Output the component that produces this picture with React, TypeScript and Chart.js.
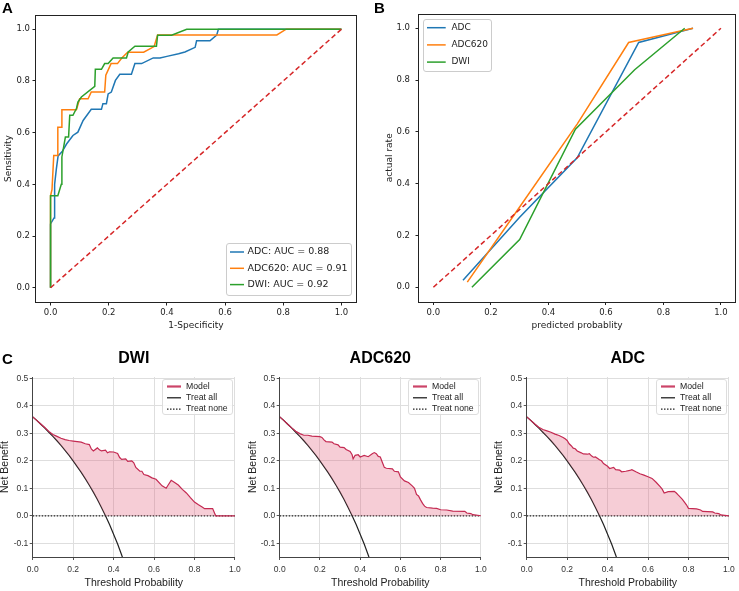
import React, { useEffect, useRef } from 'react';
import { Chart, registerables } from 'chart.js';

Chart.register(...registerables);

const DEJAVU = "'DejaVu Sans', sans-serif";
const ARIAL = "'Liberation Sans', Arial, sans-serif";

const BLUE = '#1f77b4';
const ORANGE = '#ff7f0e';
const GREEN = '#2ca02c';
const RED = '#d62728';
const CRIMSON = '#c42a52';
const PINK = 'rgba(225, 90, 120, 0.3)';

// ---------- Panel A: ROC ----------
const rocLabels = ['ADC: AUC = 0.88', 'ADC620: AUC = 0.91', 'DWI: AUC = 0.92'];
const rocAdcFpr = [0, 0, 0.012, 0.014, 0.02, 0.026, 0.04, 0.055, 0.077, 0.094, 0.112, 0.14, 0.175, 0.18, 0.192, 0.198, 0.209, 0.223, 0.238, 0.278, 0.29, 0.313, 0.353, 0.376, 0.40, 0.44, 0.462, 0.497, 0.502, 0.548, 0.571, 0.577, 1.0];
const rocAdcTpr = [0, 0.247, 0.27, 0.40, 0.46, 0.51, 0.527, 0.556, 0.589, 0.602, 0.647, 0.69, 0.69, 0.712, 0.712, 0.75, 0.757, 0.802, 0.826, 0.826, 0.867, 0.867, 0.889, 0.889, 0.895, 0.905, 0.912, 0.93, 0.955, 0.955, 0.977, 1.0, 1.0];
const rocAdc620Fpr = [0, 0, 0.005, 0.011, 0.023, 0.025, 0.037, 0.039, 0.089, 0.10, 0.129, 0.14, 0.186, 0.19, 0.208, 0.23, 0.245, 0.265, 0.32, 0.356, 0.368, 0.778, 0.81, 1.0];
const rocAdc620Tpr = [0, 0.356, 0.38, 0.512, 0.512, 0.621, 0.621, 0.689, 0.689, 0.731, 0.731, 0.757, 0.757, 0.822, 0.867, 0.867, 0.889, 0.911, 0.911, 0.933, 0.978, 0.978, 1.0, 1.0];
const rocDwiFpr = [0, 0, 0.025, 0.037, 0.039, 0.051, 0.062, 0.066, 0.077, 0.089, 0.094, 0.106, 0.152, 0.154, 0.175, 0.186, 0.198, 0.215, 0.261, 0.267, 0.29, 0.364, 0.368, 0.416, 0.468, 1.0];
const rocDwiTpr = [0, 0.356, 0.356, 0.40, 0.506, 0.583, 0.583, 0.667, 0.667, 0.693, 0.718, 0.738, 0.779, 0.845, 0.845, 0.867, 0.867, 0.889, 0.889, 0.912, 0.934, 0.934, 0.977, 0.977, 1.0, 1.0];
const diagX = [0, 1];
const diagY = [0, 1];
const unitTicks = [0, 0.2, 0.4, 0.6, 0.8, 1.0];

// ---------- Panel B: calibration ----------
const calLabels = ['ADC', 'ADC620', 'DWI'];
const calAdcPred = [0.103, 0.3, 0.5, 0.714, 0.903];
const calAdcObs = [0.027, 0.27, 0.5, 0.945, 1.0];
const calAdc620Pred = [0.118, 0.3, 0.5, 0.679, 0.903];
const calAdc620Obs = [0.02, 0.31, 0.63, 0.945, 1.0];
const calDwiPred = [0.134, 0.3, 0.494, 0.7, 0.874];
const calDwiObs = [0.0, 0.184, 0.61, 0.84, 1.0];

// ---------- Panel C: decision curves ----------
const dcaTitles = ['DWI', 'ADC620', 'ADC'];
const dwiThr = [0, 0.02, 0.04, 0.06, 0.08, 0.10, 0.12, 0.14, 0.16, 0.18, 0.20, 0.22, 0.24, 0.26, 0.28, 0.29, 0.30, 0.32, 0.33, 0.34, 0.36, 0.37, 0.38, 0.40, 0.42, 0.43, 0.44, 0.46, 0.47, 0.49, 0.50, 0.51, 0.53, 0.54, 0.55, 0.57, 0.59, 0.61, 0.64, 0.66, 0.67, 0.685, 0.70, 0.72, 0.74, 0.76, 0.78, 0.80, 0.82, 0.84, 0.85, 0.89, 0.905, 1.0];
const dwiNb = [0.360, 0.347, 0.334, 0.321, 0.307, 0.296, 0.289, 0.282, 0.277, 0.274, 0.272, 0.270, 0.268, 0.262, 0.259, 0.243, 0.236, 0.247, 0.240, 0.236, 0.239, 0.229, 0.233, 0.232, 0.227, 0.212, 0.205, 0.207, 0.198, 0.200, 0.193, 0.176, 0.162, 0.162, 0.150, 0.146, 0.138, 0.133, 0.109, 0.100, 0.112, 0.129, 0.122, 0.112, 0.096, 0.083, 0.066, 0.050, 0.040, 0.031, 0.026, 0.026, 0.000, 0.000];
const adc620Thr = [0, 0.02, 0.04, 0.06, 0.08, 0.10, 0.12, 0.14, 0.16, 0.18, 0.20, 0.21, 0.22, 0.23, 0.26, 0.27, 0.29, 0.30, 0.32, 0.33, 0.35, 0.36, 0.365, 0.375, 0.39, 0.40, 0.42, 0.44, 0.46, 0.47, 0.48, 0.49, 0.50, 0.51, 0.52, 0.53, 0.56, 0.57, 0.59, 0.60, 0.62, 0.64, 0.66, 0.67, 0.68, 0.69, 0.70, 0.71, 0.72, 0.73, 0.76, 0.78, 0.80, 0.83, 0.86, 0.92, 0.93, 0.95, 0.96, 1.0];
const adc620Nb = [0.360, 0.347, 0.333, 0.320, 0.308, 0.299, 0.293, 0.293, 0.290, 0.289, 0.288, 0.285, 0.276, 0.270, 0.268, 0.262, 0.258, 0.250, 0.248, 0.241, 0.234, 0.222, 0.207, 0.220, 0.222, 0.214, 0.220, 0.215, 0.226, 0.230, 0.226, 0.216, 0.214, 0.195, 0.176, 0.173, 0.171, 0.162, 0.160, 0.141, 0.127, 0.121, 0.108, 0.100, 0.078, 0.072, 0.058, 0.045, 0.035, 0.030, 0.028, 0.027, 0.022, 0.021, 0.017, 0.016, 0.010, 0.008, 0.004, 0.000];
const adcThr = [0, 0.02, 0.04, 0.06, 0.08, 0.10, 0.12, 0.14, 0.16, 0.18, 0.19, 0.20, 0.21, 0.22, 0.23, 0.24, 0.25, 0.27, 0.28, 0.30, 0.31, 0.32, 0.33, 0.34, 0.36, 0.37, 0.38, 0.40, 0.41, 0.43, 0.44, 0.46, 0.47, 0.49, 0.51, 0.52, 0.54, 0.56, 0.58, 0.60, 0.62, 0.64, 0.66, 0.67, 0.68, 0.70, 0.73, 0.74, 0.75, 0.77, 0.79, 0.80, 0.84, 0.86, 0.87, 0.92, 0.93, 0.95, 0.96, 1.0];
const adcNb = [0.360, 0.347, 0.334, 0.322, 0.314, 0.309, 0.304, 0.297, 0.292, 0.285, 0.280, 0.274, 0.262, 0.255, 0.246, 0.244, 0.236, 0.229, 0.225, 0.224, 0.226, 0.218, 0.213, 0.214, 0.204, 0.200, 0.190, 0.180, 0.172, 0.176, 0.168, 0.166, 0.160, 0.162, 0.165, 0.168, 0.160, 0.153, 0.148, 0.142, 0.136, 0.122, 0.106, 0.097, 0.083, 0.088, 0.089, 0.083, 0.075, 0.060, 0.040, 0.027, 0.025, 0.021, 0.016, 0.014, 0.010, 0.008, 0.003, 0.000];
const treatAllThr = [0, 0.02, 0.04, 0.06, 0.08, 0.10, 0.12, 0.14, 0.16, 0.18, 0.20, 0.22, 0.24, 0.26, 0.28, 0.30, 0.32, 0.34, 0.36, 0.38, 0.40, 0.42, 0.44, 0.46];
const treatAllNb = [0.360, 0.347, 0.333, 0.319, 0.304, 0.289, 0.273, 0.256, 0.238, 0.220, 0.200, 0.179, 0.158, 0.135, 0.111, 0.086, 0.059, 0.030, 0.000, -0.032, -0.067, -0.103, -0.143, -0.185];
const treatNoneThr = [0, 1];
const treatNoneNb = [0, 0];
const dcaYTicks = [-0.1, 0, 0.1, 0.2, 0.3, 0.4, 0.5];
const dcaLegendLabels = ['Model', 'Treat all', 'Treat none'];

type Pt = { x: number; y: number };
const zip = (xs: number[], ys: number[]): Pt[] => xs.map((x, i) => ({ x, y: ys[i] }));
const fmt1 = (v: any) => Number(v).toFixed(1);

interface LegendItemCfg { label: string; color: string; width: number; dash?: number[] }
interface LegendCfg {
  items: LegendItemCfg[]; size: number; family: string; color: string; border: string;
  corner: 'tl' | 'tr' | 'br'; dx: number; dy: number; w: number; h: number;
  firstRow: number; rowGap: number; hx0: number; hx1: number; tx: number;
}

function makeBoxLegend(cfg: LegendCfg) {
  return {
    id: 'boxLegend',
    afterDraw(chart: any) {
      const { ctx, chartArea: a } = chart;
      const left = Math.round(cfg.corner === 'tl' ? a.left + cfg.dx : a.right - cfg.dx - cfg.w);
      const top = Math.round(cfg.corner === 'br' ? a.bottom - cfg.dy - cfg.h : a.top + cfg.dy);
      ctx.save();
      ctx.beginPath();
      ctx.roundRect(left + 0.5, top + 0.5, cfg.w, cfg.h, 2.5);
      ctx.fillStyle = 'rgba(255,255,255,0.85)';
      ctx.fill();
      ctx.strokeStyle = cfg.border;
      ctx.lineWidth = 1;
      ctx.stroke();
      ctx.font = `${cfg.size}px ${cfg.family}`;
      ctx.textBaseline = 'middle';
      ctx.textAlign = 'left';
      cfg.items.forEach((it, i) => {
        const y = top + cfg.firstRow + i * cfg.rowGap;
        ctx.beginPath();
        ctx.setLineDash(it.dash || []);
        ctx.strokeStyle = it.color;
        ctx.lineWidth = it.width;
        ctx.moveTo(left + cfg.hx0, y);
        ctx.lineTo(left + cfg.hx1, y);
        ctx.stroke();
        ctx.setLineDash([]);
        ctx.fillStyle = cfg.color;
        ctx.fillText(it.label, left + cfg.tx, y);
      });
      ctx.restore();
    },
  };
}

const framePlugin = {
  id: 'frame',
  afterDatasetsDraw(chart: any) {
    const { ctx, chartArea: a } = chart;
    ctx.save();
    ctx.strokeStyle = '#222';
    ctx.lineWidth = 1;
    ctx.strokeRect(Math.round(a.left) - 0.5, Math.round(a.top) + 0.5, Math.round(a.right - a.left) + 1, Math.round(a.bottom - a.top));
    ctx.restore();
  },
};

function boxAxis(o: { min: number; max: number; size: number; fitKey: 'width' | 'height'; title: string; titlePad: { top: number; bottom: number }; tickPad: number }) {
  return {
    type: 'linear',
    min: o.min,
    max: o.max,
    afterBuildTicks: (s: any) => { s.ticks = unitTicks.map((v) => ({ value: v })); },
    afterFit: (s: any) => { s[o.fitKey] = o.size; },
    ticks: { autoSkip: false, maxRotation: 0, padding: o.tickPad, color: '#222', font: { family: DEJAVU, size: 8.5 }, callback: fmt1 },
    grid: { display: true, drawOnChartArea: false, drawTicks: true, tickLength: 3.5, tickWidth: 1, tickColor: '#222', color: '#222' },
    border: { display: false },
    title: { display: true, text: o.title, color: '#222', font: { family: DEJAVU, size: 9 }, padding: o.titlePad },
  };
}

const lineDs = (label: string, data: Pt[], color: string, order: number, dash: number[] = []) => ({
  label, data, borderColor: color, backgroundColor: color, borderWidth: 1.5, borderDash: dash,
  pointRadius: 0, tension: 0, fill: false, order,
});

const baseOptions = (padding: any) => ({
  responsive: false,
  animation: false,
  devicePixelRatio: 1,
  layout: { padding },
  plugins: { legend: { display: false }, tooltip: { enabled: false } },
  elements: { point: { radius: 0 } },
});

function configA() {
  return {
    type: 'line',
    data: {
      datasets: [
        lineDs(rocLabels[0], zip(rocAdcFpr, rocAdcTpr), BLUE, 3),
        lineDs(rocLabels[1], zip(rocAdc620Fpr, rocAdc620Tpr), ORANGE, 2),
        lineDs(rocLabels[2], zip(rocDwiFpr, rocDwiTpr), GREEN, 1),
        lineDs('chance', zip(diagX, diagY), RED, 0, [5, 3]),
      ],
    },
    options: {
      ...baseOptions({ top: 15, right: 14, left: 0, bottom: 0 }),
      scales: {
        x: boxAxis({ min: -0.05, max: 1.05, size: 33, fitKey: 'height', title: '1-Specificity', titlePad: { top: 0, bottom: 3.6 }, tickPad: 1.7 }),
        y: boxAxis({ min: -0.055, max: 1.055, size: 36, fitKey: 'width', title: 'Sensitivity', titlePad: { top: 3.6, bottom: 0 }, tickPad: 2.5 }),
      },
    },
    plugins: [
      framePlugin,
      makeBoxLegend({
        items: [
          { label: rocLabels[0], color: BLUE, width: 1.5 },
          { label: rocLabels[1], color: ORANGE, width: 1.5 },
          { label: rocLabels[2], color: GREEN, width: 1.5 },
        ],
        size: 9.5, family: DEJAVU, color: '#222', border: '#cccccc',
        corner: 'br', dx: 5, dy: 7, w: 125, h: 52, firstRow: 9, rowGap: 16.3, hx0: 4, hx1: 18, tx: 21.5,
      }),
    ],
  };
}

function configB() {
  return {
    type: 'line',
    data: {
      datasets: [
        lineDs(calLabels[0], zip(calAdcPred, calAdcObs), BLUE, 3),
        lineDs(calLabels[1], zip(calAdc620Pred, calAdc620Obs), ORANGE, 2),
        lineDs(calLabels[2], zip(calDwiPred, calDwiObs), GREEN, 1),
        lineDs('perfect', zip(diagX, diagY), RED, 0, [5, 3]),
      ],
    },
    options: {
      ...baseOptions({ top: 14, right: 3.7, left: 0, bottom: 0 }),
      scales: {
        x: boxAxis({ min: -0.05, max: 1.05, size: 33.5, fitKey: 'height', title: 'predicted probablity', titlePad: { top: 0, bottom: 3.6 }, tickPad: 2.2 }),
        y: boxAxis({ min: -0.055, max: 1.055, size: 49, fitKey: 'width', title: 'actual rate', titlePad: { top: 14.6, bottom: 0 }, tickPad: 5.5 }),
      },
    },
    plugins: [
      framePlugin,
      makeBoxLegend({
        items: [
          { label: calLabels[0], color: BLUE, width: 1.5 },
          { label: calLabels[1], color: ORANGE, width: 1.5 },
          { label: calLabels[2], color: GREEN, width: 1.5 },
        ],
        size: 9, family: DEJAVU, color: '#222', border: '#cccccc',
        corner: 'tl', dx: 4.3, dy: 5.3, w: 68, h: 52, firstRow: 8.7, rowGap: 17.2, hx0: 4, hx1: 22.7, tx: 28.4,
      }),
    ],
  };
}

function configDca(title: string, thr: number[], nb: number[], yWidth: number, rightPad: number, yTitlePad: number) {
  const treatAll = zip(treatAllThr, treatAllNb);
  const treatNone = zip(treatNoneThr, treatNoneNb);
  const upper = treatAll.filter((p) => p.y >= 0);
  const lastX = upper[upper.length - 1].x;
  const lowerBound = [...upper, ...treatNone.filter((p) => p.x > lastX)];
  const tickFont = { family: ARIAL, size: 8.5 };
  const gridCfg = { display: true, color: '#dedede', lineWidth: 1, drawTicks: true, tickLength: 3, tickColor: '#555' };
  return {
    type: 'line',
    data: {
      datasets: [
        { label: dcaLegendLabels[0], data: zip(thr, nb), borderColor: CRIMSON, backgroundColor: PINK, borderWidth: 1.2, pointRadius: 0, tension: 0, fill: 3, order: 0 },
        { label: dcaLegendLabels[1], data: treatAll, borderColor: '#222', borderWidth: 1.2, pointRadius: 0, tension: 0, fill: false, order: 1 },
        { label: dcaLegendLabels[2], data: treatNone, borderColor: '#222', borderWidth: 1.2, borderDash: [1.5, 1.5], pointRadius: 0, tension: 0, fill: false, order: 2 },
        { label: 'bound', data: lowerBound, borderColor: 'rgba(0,0,0,0)', borderWidth: 0, pointRadius: 0, tension: 0, fill: false, order: 3 },
      ],
    },
    options: {
      ...baseOptions({ top: 0, right: rightPad, left: 0, bottom: 0 }),
      plugins: {
        legend: { display: false },
        tooltip: { enabled: false },
        title: { display: true, text: title, fullSize: false, color: '#000', font: { family: ARIAL, size: 16, weight: 'bold' }, padding: { top: 8.7, bottom: 9.1 } },
      },
      scales: {
        x: {
          type: 'linear', min: 0, max: 1,
          afterBuildTicks: (s: any) => { s.ticks = unitTicks.map((v) => ({ value: v })); },
          afterFit: (s: any) => { s.height = 34; },
          ticks: { autoSkip: false, maxRotation: 0, padding: 4.2, color: '#333', font: tickFont, callback: fmt1 },
          grid: gridCfg,
          border: { display: true, color: '#444', width: 1 },
          title: { display: true, text: 'Threshold Probability', color: '#222', font: { family: ARIAL, size: 10.5 }, padding: { top: 0, bottom: 1.4 } },
        },
        y: {
          type: 'linear', min: -0.15, max: 0.505,
          afterBuildTicks: (s: any) => { s.ticks = dcaYTicks.map((v) => ({ value: v })); },
          afterFit: (s: any) => { s.width = yWidth; },
          ticks: { autoSkip: false, padding: 1.4, color: '#333', font: tickFont, callback: fmt1 },
          grid: gridCfg,
          border: { display: true, color: '#444', width: 1 },
          title: { display: true, text: 'Net Benefit', color: '#222', font: { family: ARIAL, size: 10.5 }, padding: { top: yTitlePad, bottom: 0 } },
        },
      },
    },
    plugins: [
      makeBoxLegend({
        items: [
          { label: dcaLegendLabels[0], color: '#cc4468', width: 2.2 },
          { label: dcaLegendLabels[1], color: '#111', width: 1.2 },
          { label: dcaLegendLabels[2], color: '#222', width: 1.2, dash: [1.5, 1.5] },
        ],
        size: 8.7, family: ARIAL, color: '#222', border: '#dddddd',
        corner: 'tr', dx: 2.5, dy: 2, w: 70, h: 35, firstRow: 7.5, rowGap: 11.3, hx0: 5, hx1: 19, tx: 24,
      }),
    ],
  };
}

function Panel(props: { left: number; top: number; width: number; height: number; make: () => any }) {
  const ref = useRef<HTMLCanvasElement>(null);
  useEffect(() => {
    const chart = new Chart(ref.current as HTMLCanvasElement, props.make());
    return () => chart.destroy();
  }, []);
  const { left, top, width, height } = props;
  return (
    <div style={{ position: 'absolute', left, top, width, height }}>
      <canvas ref={ref} width={width} height={height} style={{ width, height, display: 'block' }} />
    </div>
  );
}

const labelStyle = (left: number, top: number): React.CSSProperties => ({
  position: 'absolute', left, top, fontFamily: ARIAL, fontWeight: 'bold', fontSize: 15, lineHeight: 1, color: '#000',
});

export default function App() {
  return (
    <div style={{ position: 'absolute', left: 0, top: 0, width: 739, height: 591, background: '#fff', overflow: 'hidden' }}>
      <Panel left={0} top={0} width={370} height={335} make={configA} />
      <Panel left={370} top={0} width={369} height={335} make={configB} />
      <Panel left={0} top={340} width={245} height={251} make={() => configDca(dcaTitles[0], dwiThr, dwiNb, 32.7, 9, -1.3)} />
      <Panel left={245} top={340} width={246} height={251} make={() => configDca(dcaTitles[1], adc620Thr, adc620Nb, 34.7, 6, 2)} />
      <Panel left={491} top={340} width={248} height={251} make={() => configDca(dcaTitles[2], adcThr, adcNb, 35.7, 6.7, 2)} />
      <div style={labelStyle(2, 0)}>A</div>
      <div style={labelStyle(374, 0)}>B</div>
      <div style={labelStyle(2, 351)}>C</div>
    </div>
  );
}
